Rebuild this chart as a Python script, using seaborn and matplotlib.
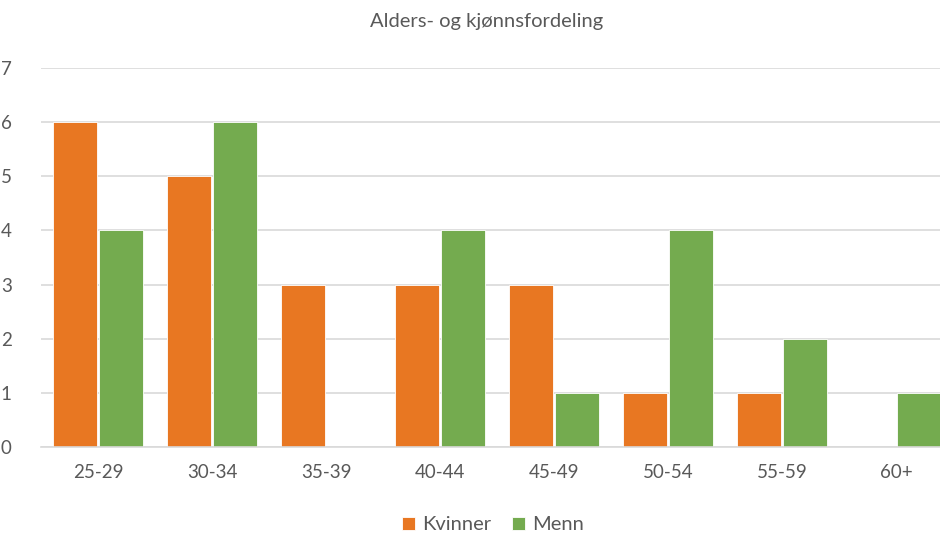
import matplotlib
matplotlib.use("Agg")
import matplotlib.pyplot as plt
import seaborn as sns
import pandas as pd

categories = ["25-29", "30-34", "35-39", "40-44", "45-49", "50-54", "55-59", "60+"]
kvinner = [6, 5, 3, 3, 3, 1, 1, 0]
menn = [4, 6, 0, 4, 1, 4, 2, 1]
series_names = ["Kvinner", "Menn"]
y_ticks = [0, 1, 2, 3, 4, 5, 6, 7]

df = pd.DataFrame({
    "Alder": categories * 2,
    "Antall": kvinner + menn,
    "Kjønn": [series_names[0]] * len(categories) + [series_names[1]] * len(categories),
})

sns.set_theme(style="white")
plt.rcParams["font.family"] = ["Lato", "DejaVu Sans"]

text_color = "#595959"
grid_color = "#d9d9d9"
palette = {"Kvinner": "#E87722", "Menn": "#74AB4F"}

fig = plt.figure(figsize=(9.4, 5.36), dpi=100)
ax = fig.add_axes([41 / 940, 89 / 536, 912 / 940, 379 / 536])

sns.barplot(data=df, x="Alder", y="Antall", hue="Kjønn", palette=palette,
            order=categories, hue_order=series_names,
            width=0.81, gap=0.05, saturation=1, ax=ax, legend=True,
            edgecolor="white", linewidth=0.6)

ax.set_xlim(-0.5, len(categories) - 0.5)
ax.set_ylim(0, 7)
ax.set_yticks(y_ticks)
ax.yaxis.grid(True, color=grid_color, linewidth=1.2)
ax.set_axisbelow(True)
for side in ["top", "right", "left"]:
    ax.spines[side].set_visible(False)
ax.spines["bottom"].set_color(grid_color)
ax.spines["bottom"].set_linewidth(1.2)
ax.set_xlabel("")
ax.set_ylabel("")
ax.tick_params(axis="both", length=0, colors=text_color, labelsize=13.5)
ax.tick_params(axis="x", pad=12)
ax.tick_params(axis="y", pad=21)

fig.text(487 / 940, 1 - 22 / 536, "Alders- og kjønnsfordeling", ha="center", va="center",
         fontsize=14.5, color=text_color)

handles, labels = ax.get_legend_handles_labels()
ax.legend_.remove()
fig.legend(handles, labels, loc="center", bbox_to_anchor=(493 / 940, 1 - 525 / 536),
           ncol=2, frameon=False, fontsize=14.5, labelcolor=text_color,
           handlelength=0.65, handleheight=0.65, handletextpad=0.35, columnspacing=1.0)

fig.savefig("out.png", dpi=100)
